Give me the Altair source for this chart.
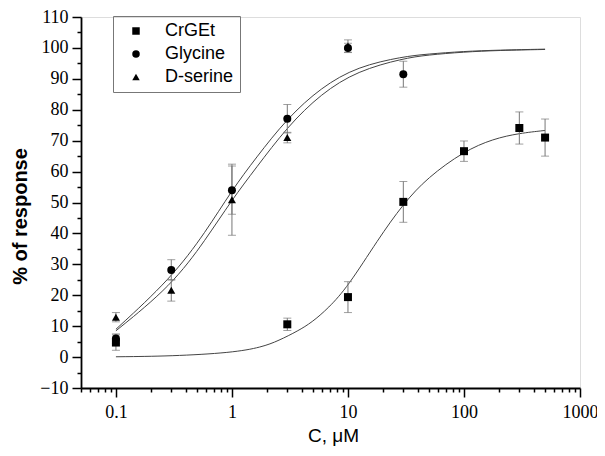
import altair as alt
import pandas as pd

# ---- measured data points (concentration in µM, % of response, error) ----
series_names = ["CrGEt", "Glycine", "D-serine"]
series_shapes = ["square", "circle", "triangle-up"]

conc_crget = [0.1, 3, 10, 30, 100, 300, 500]
resp_crget = [4.7, 10.6, 19.4, 50.2, 66.6, 74.1, 71.0]
err_crget = [2.5, 2.0, 5.0, 6.6, 3.3, 5.2, 6.0]

conc_gly = [0.1, 0.3, 1, 3, 10, 30]
resp_gly = [6.0, 28.2, 54.0, 77.1, 100.0, 91.5]
err_gly = [1.5, 3.3, 7.8, 4.6, 1.5, 4.2]

conc_dser = [0.1, 0.3, 1, 3, 10]
resp_dser = [12.9, 21.6, 50.9, 71.0, 100.6]
err_dser = [1.5, 3.5, 11.5, 1.7, 2.0]

# ---- fitted curves ----
fit_x_crget = [0.1, 0.3, 1, 1.81, 2.52, 3.72, 4.87, 6.77, 10, 18.1, 30, 48.3, 100, 179, 300, 500]
fit_y_crget = [0.1, 0.3, 1.4, 3.2, 5.3, 8.5, 11.2, 15.8, 22.8, 38.0, 49.6, 58.0, 66.6, 70.6, 72.4, 73.3]

fit_x_gly = [0.1, 0.3, 0.595, 1, 1.6, 3, 5.9, 12.1, 30, 48, 100, 200, 500]
fit_y_gly = [9.0, 25.5, 40.5, 54.0, 64.3, 77.3, 87.3, 94.0, 97.2, 98.0, 98.9, 99.3, 99.6]

fit_x_dser = [0.1, 0.3, 0.595, 1, 1.6, 3, 5.9, 12.1, 30, 48, 100, 200, 500]
fit_y_dser = [8.5, 23.0, 38.0, 50.9, 61.0, 74.5, 85.3, 92.6, 96.6, 97.7, 98.7, 99.2, 99.5]

# ---- axis ticks ----
x_tick_values = [round(m * 10.0 ** e, 6) for e in range(-2, 3) for m in range(1, 10)
                 if 0.05 <= m * 10.0 ** e <= 1000] + [1000]
y_tick_values = list(range(-10, 111, 5))

# ---- tables ----
pts = pd.DataFrame({
    "series": ["CrGEt"] * len(conc_crget) + ["Glycine"] * len(conc_gly) + ["D-serine"] * len(conc_dser),
    "c": conc_crget + conc_gly + conc_dser,
    "r": resp_crget + resp_gly + resp_dser,
    "e": err_crget + err_gly + err_dser,
})
pts["lo"] = pts["r"] - pts["e"]
pts["hi"] = pts["r"] + pts["e"]

fits = pd.DataFrame({
    "series": ["CrGEt"] * len(fit_x_crget) + ["Glycine"] * len(fit_x_gly) + ["D-serine"] * len(fit_x_dser),
    "c": fit_x_crget + fit_x_gly + fit_x_dser,
    "r": fit_y_crget + fit_y_gly + fit_y_dser,
})

x_major = "abs(log(datum.value)/LN10 - round(log(datum.value)/LN10)) < 0.001"
y_major = "datum.value % 10 === 0"

x_scale = alt.Scale(type="log", domain=[0.05, 1000], nice=False)
y_scale = alt.Scale(domain=[-10, 110], nice=False)

x_axis = alt.Axis(
    values=x_tick_values, title="C, μM", grid=False,
    labelExpr=f"({x_major}) ? format(datum.value, '~g') : ''",
    labelFont="Liberation Serif", labelFontSize=18, labelColor="black",
    labelFlush=False, labelOverlap=False, labelPadding=6,
    tickSize={"condition": {"test": x_major, "value": 9}, "value": 4},
    tickColor="black", tickWidth=1.5, domainColor="black", domainWidth=1.8,
    titleFont="Liberation Sans", titleFontSize=19, titleFontWeight="normal",
    titleColor="black", titleX=252, titleY=53, titleBaseline="alphabetic",
    titleAlign="center",
)
y_axis = alt.Axis(
    values=y_tick_values, title="% of response", grid=False,
    labelExpr=f"({y_major}) ? format(datum.value, 'd') : ''",
    labelFont="Liberation Serif", labelFontSize=18, labelColor="black",
    labelFlush=False, labelOverlap=False, labelPadding=4,
    tickSize={"condition": {"test": y_major, "value": 9}, "value": 4},
    tickColor="black", tickWidth=1.5, domainColor="black", domainWidth=1.8,
    titleFont="Liberation Sans", titleFontSize=20, titleFontWeight="bold",
    titleColor="black", titleX=-55, titleY=199, titleBaseline="alphabetic",
    titleAlign="center", titleAngle=270,
)

X = alt.X("c:Q", scale=x_scale, axis=x_axis)
Y = alt.Y("r:Q", scale=y_scale, axis=y_axis)

curves = alt.Chart(fits).mark_line(
    color="#444", strokeWidth=1, interpolate="basis"
).encode(x=X, y=Y, detail="series:N")

bars = alt.Chart(pts).mark_rule(color="#777", strokeWidth=1).encode(
    x=X, y=alt.Y("lo:Q", scale=y_scale, axis=y_axis), y2="hi:Q", detail="series:N"
)
cap_lo = alt.Chart(pts).mark_tick(orient="horizontal", size=8, thickness=1, color="#777").encode(
    x=X, y=alt.Y("lo:Q", scale=y_scale, axis=y_axis), detail="series:N"
)
cap_hi = alt.Chart(pts).mark_tick(orient="horizontal", size=8, thickness=1, color="#777").encode(
    x=X, y=alt.Y("hi:Q", scale=y_scale, axis=y_axis), detail="series:N"
)

points = alt.Chart(pts).mark_point(filled=True, opacity=1, color="black", size=64).encode(
    x=X, y=Y,
    shape=alt.Shape(
        "series:N",
        scale=alt.Scale(domain=series_names, range=series_shapes),
        legend=alt.Legend(
            title=None, orient="none", legendX=32, legendY=-1,
            strokeColor="#777", padding=6,
            labelFont="Liberation Sans", labelFontSize=18, labelColor="black",
            symbolSize=56, symbolFillColor="black", symbolStrokeColor="black",
            symbolOffset=8, labelOffset=20, rowPadding=5,
        ),
    ),
)

chart = alt.layer(curves, bars, cap_lo, cap_hi, points).properties(
    width=499, height=371,
    autosize=alt.AutoSizeParams(type="none"),
    padding={"left": 73, "top": 9, "right": 17, "bottom": 60},
).configure_view(stroke=None).configure(background="white")

chart.save("out.html", embed_options={"renderer": "svg", "actions": False})
